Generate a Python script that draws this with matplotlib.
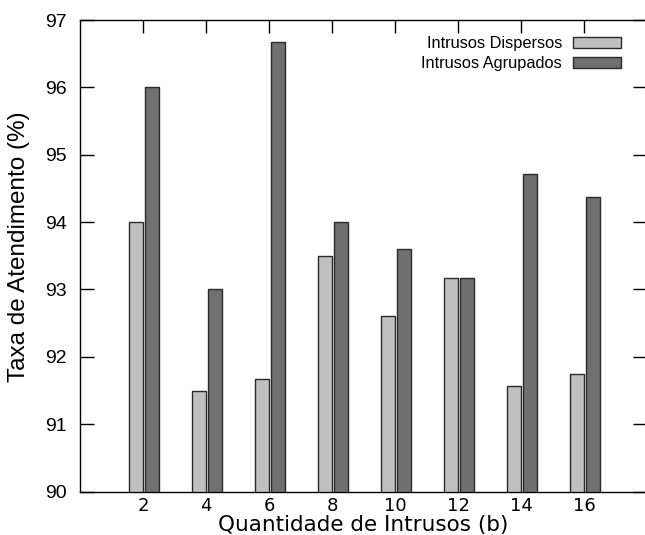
import numpy as np
import matplotlib
matplotlib.use("Agg")
import matplotlib.pyplot as plt

# dados
intrusos = [2, 4, 6, 8, 10, 12, 14, 16]
dispersos = [94.0, 91.5, 91.67, 93.5, 92.6, 93.17, 91.57, 91.75]
agrupados = [96.0, 93.0, 96.67, 94.0, 93.6, 93.17, 94.71, 94.38]
y_ticks = [90, 91, 92, 93, 94, 95, 96, 97]

fig = plt.figure(figsize=(6.45, 5.35), dpi=100)
ax = fig.add_axes([80 / 645, 43.4 / 535, 567 / 645, 471.6 / 535])

x = np.array(intrusos, dtype=float)
ymin = 90
larg = 0.44
ax.bar(x - 0.21, np.array(dispersos) - ymin, bottom=ymin, width=larg,
       color="#c0c0c0", edgecolor="#2a2a2a", linewidth=1.0,
       label="Intrusos Dispersos", zorder=3)
ax.bar(x + 0.29, np.array(agrupados) - ymin, bottom=ymin, width=larg,
       color="#707070", edgecolor="#2a2a2a", linewidth=1.0,
       label="Intrusos Agrupados", zorder=3)

ax.set_xlim(0, 18)
ax.set_ylim(90, 97)
ax.set_yticks(y_ticks)
ax.set_xticks(intrusos)
ax.tick_params(axis="y", direction="in", length=10, width=1, left=True,
               right=True, pad=9.5, labelsize=14)
ax.tick_params(axis="x", direction="in", length=9, width=1, bottom=False,
               top=True, pad=4, labelsize=13)
for lab in ax.get_yticklabels():
    lab.set_fontfamily("Liberation Sans")
for lab in ax.get_xticklabels():
    lab.set_fontfamily("DejaVu Sans")

ax.set_xlabel("Quantidade de Intrusos (b)", fontsize=15.5,
              family="DejaVu Sans", labelpad=0)
ax.set_ylabel("Taxa de Atendimento (%)", fontsize=17.5,
              family="Liberation Sans")
ax.yaxis.set_label_coords(-0.088, 0.52)

for s in ax.spines.values():
    s.set_linewidth(1.0)

leg = ax.legend(loc="upper right", bbox_to_anchor=(0.98, 0.997),
                frameon=False, markerfirst=False, handlelength=2.9,
                handleheight=0.62, handletextpad=0.7, labelspacing=0.3,
                prop={"family": "Liberation Sans", "size": 11.8})
for t in leg.get_texts():
    t.set_ha("right")

fig.savefig("out.png", dpi=100)
